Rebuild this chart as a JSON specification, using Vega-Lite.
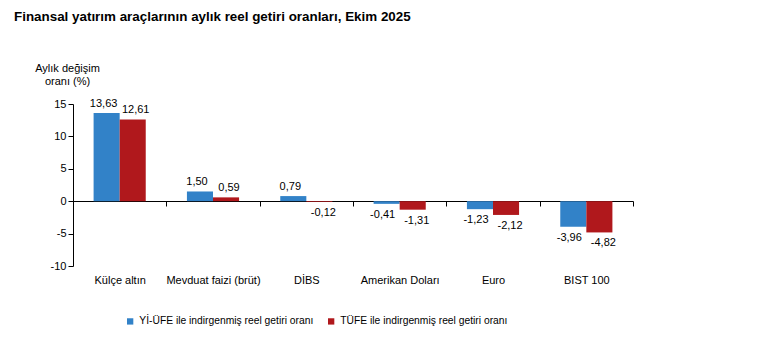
{
  "$schema": "https://vega.github.io/schema/vega-lite/v6.json",
  "width": 560,
  "height": 162,
  "autosize": "none",
  "padding": {"left": 73, "top": 104, "right": 139, "bottom": 85},
  "background": "white",
  "config": {
    "font": "Liberation Sans",
    "view": {"stroke": null},
    "locale": {"number": {"decimal": ",", "thousands": ".", "grouping": [3], "currency": ["", " TL"], "minus": "-"}},
    "axis": {"labelFont": "Liberation Sans", "labelColor": "#000", "labelFontSize": 11, "domainColor": "#000", "tickColor": "#000"}
  },
  "title": {
    "text": "Finansal yatırım araçlarının aylık reel getiri oranları, Ekim 2025",
    "anchor": "start",
    "frame": "group",
    "fontSize": 13.4,
    "fontWeight": "bold",
    "color": "#000",
    "dx": -59,
    "offset": 39
  },
  "data": {
    "values": [
      {"kategori": "Külçe altın", "seri": "Yİ-ÜFE ile indirgenmiş reel getiri oranı", "deger": 13.63},
      {"kategori": "Külçe altın", "seri": "TÜFE ile indirgenmiş reel getiri oranı", "deger": 12.61},
      {"kategori": "Mevduat faizi (brüt)", "seri": "Yİ-ÜFE ile indirgenmiş reel getiri oranı", "deger": 1.50},
      {"kategori": "Mevduat faizi (brüt)", "seri": "TÜFE ile indirgenmiş reel getiri oranı", "deger": 0.59},
      {"kategori": "DİBS", "seri": "Yİ-ÜFE ile indirgenmiş reel getiri oranı", "deger": 0.79},
      {"kategori": "DİBS", "seri": "TÜFE ile indirgenmiş reel getiri oranı", "deger": -0.12},
      {"kategori": "Amerikan Doları", "seri": "Yİ-ÜFE ile indirgenmiş reel getiri oranı", "deger": -0.41},
      {"kategori": "Amerikan Doları", "seri": "TÜFE ile indirgenmiş reel getiri oranı", "deger": -1.31},
      {"kategori": "Euro", "seri": "Yİ-ÜFE ile indirgenmiş reel getiri oranı", "deger": -1.23},
      {"kategori": "Euro", "seri": "TÜFE ile indirgenmiş reel getiri oranı", "deger": -2.12},
      {"kategori": "BIST 100", "seri": "Yİ-ÜFE ile indirgenmiş reel getiri oranı", "deger": -3.96},
      {"kategori": "BIST 100", "seri": "TÜFE ile indirgenmiş reel getiri oranı", "deger": -4.82}
    ]
  },
  "encoding": {
    "x": {"field": "kategori", "type": "nominal", "sort": null,
          "scale": {"paddingInner": 0, "paddingOuter": 0},
          "axis": {"title": null, "offset": -65, "domain": true, "ticks": true, "tickBand": "extent", "tickSize": 5,
                   "labelPadding": 68, "labelAngle": 0, "labelBaseline": "top", "labelLimit": 200}},
    "xOffset": {"field": "seri", "type": "nominal", "sort": ["Yİ-ÜFE ile indirgenmiş reel getiri oranı", "TÜFE ile indirgenmiş reel getiri oranı"],
                "scale": {"paddingInner": 0, "paddingOuter": 0.79}},
    "y": {"field": "deger", "type": "quantitative", "scale": {"domain": [-10, 15], "nice": false},
          "axis": {"title": ["Aylık değişim", "oranı (%)"], "titleAngle": 0, "titleX": -6, "titleY": -31, "titleAlign": "center", "titleBaseline": "bottom", "titleFontSize": 11, "titleFontWeight": "normal", "titleColor": "#000", "titleLineHeight": 13,
                   "values": [-10, -5, 0, 5, 10, 15], "grid": false, "tickSize": 5, "labelPadding": 2, "format": "d", "labelOverlap": false}}
  },
  "layer": [
    {
      "mark": {"type": "bar"},
      "encoding": {
        "color": {"field": "seri", "type": "nominal", "sort": ["Yİ-ÜFE ile indirgenmiş reel getiri oranı", "TÜFE ile indirgenmiş reel getiri oranı"],
                  "scale": {"range": ["#3282C8", "#B0181C"]},
                  "legend": {"title": null, "orient": "none", "direction": "horizontal", "legendX": 52, "legendY": 212,
                             "symbolType": "square", "symbolSize": 40, "symbolStrokeWidth": 0, "labelFontSize": 10.3, "labelColor": "#000", "labelLimit": 300, "columnPadding": 12, "labelOffset": 4}}
      }
    },
    {
      "transform": [{"filter": "datum.deger >= 0 && datum.seri == 'Yİ-ÜFE ile indirgenmiş reel getiri oranı'"}],
      "mark": {"type": "text", "baseline": "bottom", "dy": -4, "dx": -3, "fontSize": 11, "color": "#000"},
      "encoding": {"text": {"field": "deger", "type": "quantitative", "format": ".2f"}}
    },
    {
      "transform": [{"filter": "datum.deger >= 0 && datum.seri != 'Yİ-ÜFE ile indirgenmiş reel getiri oranı'"}],
      "mark": {"type": "text", "baseline": "bottom", "dy": -4, "dx": 3, "fontSize": 11, "color": "#000"},
      "encoding": {"text": {"field": "deger", "type": "quantitative", "format": ".2f"}}
    },
    {
      "transform": [{"filter": "datum.deger < 0 && datum.seri == 'Yİ-ÜFE ile indirgenmiş reel getiri oranı'"}],
      "mark": {"type": "text", "baseline": "top", "dy": 5, "dx": -4, "fontSize": 11, "color": "#000"},
      "encoding": {"text": {"field": "deger", "type": "quantitative", "format": ".2f"}}
    },
    {
      "transform": [{"filter": "datum.deger < 0 && datum.seri != 'Yİ-ÜFE ile indirgenmiş reel getiri oranı'"}],
      "mark": {"type": "text", "baseline": "top", "dy": 5, "dx": 4, "fontSize": 11, "color": "#000"},
      "encoding": {"text": {"field": "deger", "type": "quantitative", "format": ".2f"}}
    }
  ]
}
